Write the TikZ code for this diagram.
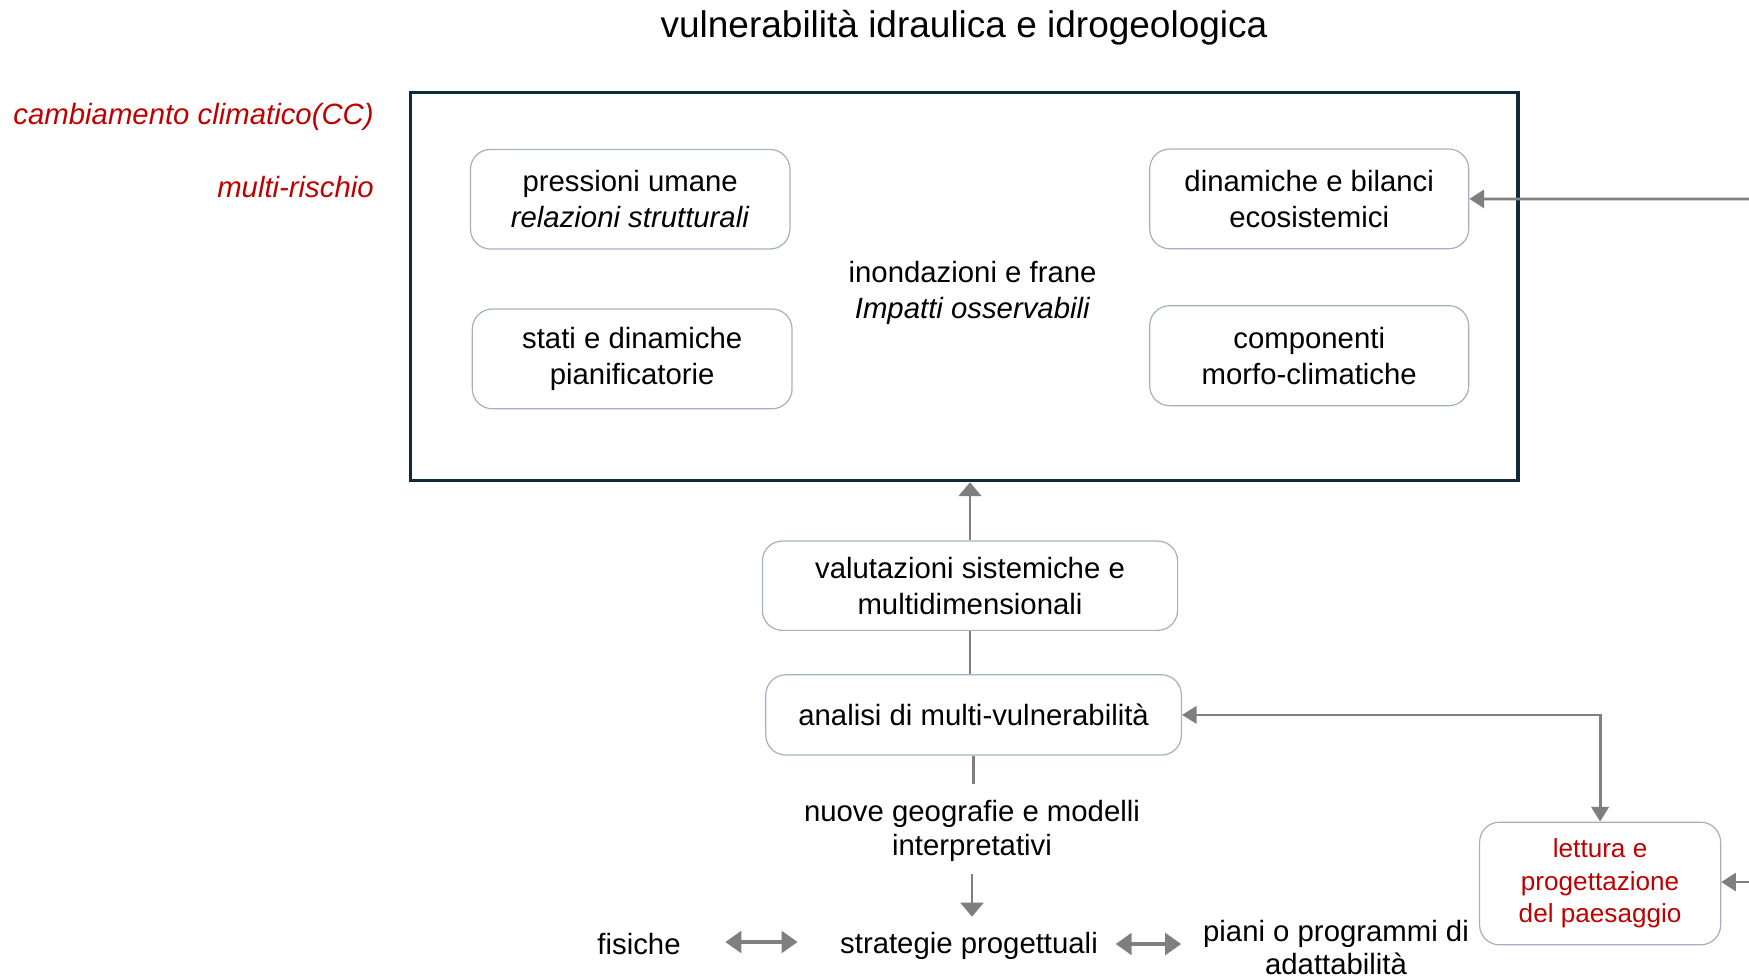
\documentclass[tikz,border=0pt]{standalone}
\usepackage{fontspec}
\setmainfont{Liberation Sans}
\usetikzlibrary{arrows.meta}
\definecolor{boxc}{HTML}{A3B1C2}
\definecolor{framec}{HTML}{11293A}
\definecolor{arrc}{HTML}{7F7F7F}
\definecolor{redc}{HTML}{C00000}
\begin{document}
\begin{tikzpicture}[x=0.75pt,y=-0.75pt,
  rbox/.style={draw=boxc, line width=0.9pt, rounded corners=15pt, fill=white,
    align=center, inner sep=0pt, font=\fontsize{22}{27}\selectfont},
  txt/.style={inner sep=0pt, align=center, font=\fontsize{22}{27}\selectfont},
  conn/.style={draw=arrc, line width=2.1pt},
  arr/.style={conn, -{Triangle[length=10.5pt,width=17pt]}},
  sidearr/.style={conn, -{Triangle[length=11pt,width=13.5pt]}},
  dblarr/.style={draw=arrc, line width=3pt, {Triangle[length=12pt,width=16pt]}-{Triangle[length=12pt,width=16pt]}},
  bothside/.style={conn, {Triangle[length=11pt,width=13pt]}-{Triangle[length=11pt,width=13pt]}}
]
\useasboundingbox[fill=white] (0,0) rectangle (1749,979);

% title and side labels
\node[inner sep=0pt, font=\fontsize{27.75}{33}\selectfont] (title) at (964,27.5) {vulnerabilità idraulica e idrogeologica};
\node[inner sep=0pt, anchor=east, text=redc, font=\fontsize{22}{26}\selectfont\itshape] (cc) at (374,116.5) {cambiamento climatico(CC)};
\node[inner sep=0pt, anchor=east, text=redc, font=\fontsize{22}{26}\selectfont\itshape] (mr) at (374,187) {multi-rischio};

% main frame
\node[draw=framec, line width=2.6pt, minimum width=830.6pt, minimum height=290.9pt, inner sep=0pt] (big) at (964.25,286.55) {};

\node[rbox, minimum width=239.6pt, minimum height=74.7pt] (pu) at (630.2,199.2) {pressioni umane\\\textit{relazioni strutturali}};
\node[rbox, minimum width=239.8pt, minimum height=74.8pt] (sd) at (632.2,358.9) {stati e dinamiche\\pianificatorie};
\node[rbox, minimum width=239.3pt, minimum height=74.8pt] (db) at (1309.2,198.9) {dinamiche e bilanci\\ecosistemici};
\node[rbox, minimum width=239.3pt, minimum height=75pt] (cm) at (1309.2,355.7) {componenti\\morfo-climatiche};
\node[txt, font=\fontsize{22}{27}\selectfont] (inond) at (972.6,292.5) {inondazioni e frane\\\textit{Impatti osservabili}};

% lower chain
\node[rbox, minimum width=311.4pt, minimum height=67pt] (vs) at (970,585.7) {valutazioni sistemiche e\\multidimensionali};
\node[rbox, minimum width=311.7pt, minimum height=60.2pt] (am) at (973.6,714.9) {analisi di multi-vulnerabilità};
\node[rbox, text=redc, minimum width=180.8pt, minimum height=92pt, font=\fontsize{19.6}{24.3}\selectfont] (lp) at (1600.1,883.5) {lettura e\\progettazione\\del paesaggio};

\node[txt, minimum height=70.5pt, font=\fontsize{22}{26}\selectfont] (ng) at (972,831) {nuove geografie e modelli\\interpretativi};
\node[txt, minimum width=219.6pt, minimum height=40.5pt] (sp) at (969,946) {strategie progettuali};
\node[txt, minimum width=129pt] (fi) at (639,944) {fisiche};
\node[txt, minimum width=231.75pt, font=\fontsize{22}{25}\selectfont] (pn) at (1336,947.5) {piani o programmi di\\adattabilità};

\coordinate (rin1) at (1749,199);
\coordinate (rin2) at (1749,882);

% connectors
\draw[sidearr] (rin1) -- (db.east);
\draw[arr] (vs.north) -- (vs.north |- big.south);
\draw[conn] (vs.south) -- (vs.south |- am.north);
\draw[bothside] (am.east) -| (lp.north);
\draw[sidearr] (rin2) -- (rin2 -| lp.east);
\draw[conn] (am.south) -- (am.south |- ng.north);
\draw[arr] ([yshift=3pt]ng.south) -- ([yshift=1.5pt]ng.south |- sp.north);
\draw[dblarr, shorten >=18.5pt] ([yshift=1.5pt]fi.east) -- ([yshift=1.5pt]fi.east -| sp.west);
\draw[dblarr] ([yshift=1.5pt]sp.east) -- ([yshift=1.5pt]sp.east -| pn.west);
\end{tikzpicture}
\end{document}
